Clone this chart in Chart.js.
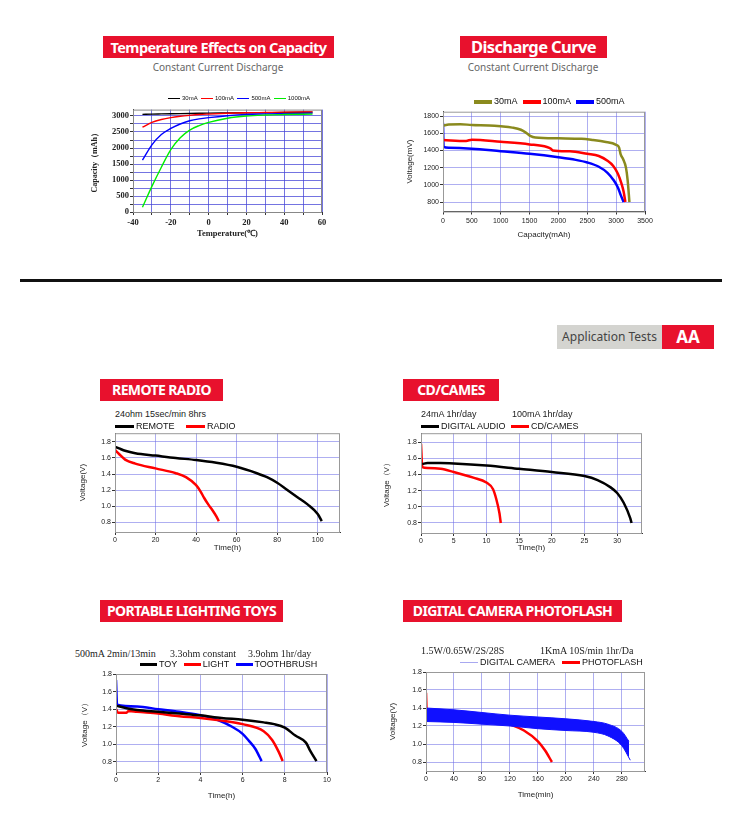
<!DOCTYPE html>
<html>
<head>
<meta charset="utf-8">
<script src="https://cdn.jsdelivr.net/npm/chart.js@4.4.1/dist/chart.umd.min.js"></script>
<style>
  body { margin: 0; background: #fff; }
  #page { position: relative; width: 729px; height: 821px; overflow: hidden; font-family: "Noto Sans", sans-serif; }
  .abs { position: absolute; white-space: nowrap; }
  .title { position: absolute; background: #e8112d; color: #fff; font-weight: 700; text-align: center; letter-spacing: -0.6px; }
  .sub { position: absolute; color: #666; font-size: 10px; text-align: center; }
  canvas.c { position: absolute; }
  .lg { position: absolute; white-space: nowrap; font-family: "Liberation Sans", Arial, sans-serif; color: #111; }
  .lg span.sw { display: inline-block; vertical-align: middle; margin-right: 2px; }
  .serif { font-family: "Liberation Serif", "Times New Roman", serif; }
</style>
</head>
<body>
<div id="page">
  <!-- top section -->
  <div class="title" style="left:103px;top:36px;width:231px;height:22px;line-height:22px;font-size:14.5px;">Temperature Effects on Capacity</div>
  <div class="sub" style="left:118px;top:60px;width:200px;">Constant Current Discharge</div>
  <div class="title" style="left:460px;top:36px;width:147px;height:22px;line-height:22px;font-size:16.5px;">Discharge Curve</div>
  <div class="sub" style="left:433px;top:60px;width:200px;">Constant Current Discharge</div>

  <div class="abs" style="left:20px;top:279px;width:702px;height:3px;background:#111;"></div>

  <div class="abs" style="left:557px;top:325px;width:105px;height:24px;background:#d4d4d0;color:#444;font-size:12px;line-height:24px;text-align:center;">Application Tests</div>
  <div class="abs" style="left:662px;top:325px;width:52px;height:24px;background:#e8112d;color:#fff;font-size:17px;font-weight:700;line-height:24px;text-align:center;">AA</div>

  <div class="title" style="left:100px;top:379px;width:123px;height:22px;line-height:22px;font-size:14px;">REMOTE RADIO</div>
  <div class="title" style="left:403px;top:379px;width:96px;height:22px;line-height:22px;font-size:14px;">CD/CAMES</div>
  <div class="title" style="left:100px;top:600px;width:183px;height:22px;line-height:22px;font-size:14px;">PORTABLE LIGHTING TOYS</div>
  <div class="title" style="left:403px;top:600px;width:219px;height:22px;line-height:22px;font-size:14px;">DIGITAL CAMERA PHOTOFLASH</div>

  <canvas class="c" id="c1"></canvas>
  <canvas class="c" id="c2"></canvas>
  <canvas class="c" id="c3"></canvas>
  <canvas class="c" id="c4"></canvas>
  <canvas class="c" id="c5"></canvas>
  <canvas class="c" id="c6"></canvas>

  <!-- legends / notes -->
  <div class="lg" style="left:168px;top:95px;font-size:6px;">
    <span class="sw" style="width:12px;height:1px;background:#000"></span>30mA
    <span class="sw" style="width:12px;height:1px;background:#f00;margin-left:2px"></span>100mA
    <span class="sw" style="width:12px;height:1px;background:#00f;margin-left:2px"></span>500mA
    <span class="sw" style="width:12px;height:1px;background:#0e0;margin-left:2px"></span>1000mA
  </div>
  <div class="lg" style="left:474px;top:96px;font-size:9px;">
    <span class="sw" style="width:18px;height:4px;background:#8a8a1e"></span>30mA
    <span class="sw" style="width:18px;height:4px;background:#f00;margin-left:3px"></span>100mA
    <span class="sw" style="width:18px;height:4px;background:#00f;margin-left:3px"></span>500mA
  </div>

  <div class="lg" style="left:115px;top:409px;font-size:9px;color:#222;">24ohm 15sec/min 8hrs</div>
  <div class="lg" style="left:115px;top:421px;font-size:9px;">
    <span class="sw" style="width:19px;height:3px;background:#000"></span>REMOTE
    <span class="sw" style="width:19px;height:3px;background:#f00;margin-left:9px"></span>RADIO
  </div>

  <div class="lg" style="left:421px;top:409px;font-size:9px;color:#222;">24mA 1hr/day</div>
  <div class="lg" style="left:512px;top:409px;font-size:9px;color:#222;">100mA 1hr/day</div>
  <div class="lg" style="left:421px;top:421px;font-size:9px;">
    <span class="sw" style="width:18px;height:3px;background:#000"></span>DIGITAL AUDIO
    <span class="sw" style="width:18px;height:3px;background:#f00;margin-left:3px"></span>CD/CAMES
  </div>

  <div class="lg serif" style="left:75px;top:648px;font-size:10px;color:#222;">500mA 2min/13min</div>
  <div class="lg serif" style="left:170px;top:648px;font-size:10px;color:#222;">3.3ohm constant</div>
  <div class="lg serif" style="left:248px;top:648px;font-size:10px;color:#222;">3.9ohm 1hr/day</div>
  <div class="lg" style="left:140px;top:659px;font-size:9px;">
    <span class="sw" style="width:17px;height:3px;background:#000"></span>TOY
    <span class="sw" style="width:17px;height:3px;background:#f00;margin-left:4px"></span>LIGHT
    <span class="sw" style="width:17px;height:3px;background:#00f;margin-left:4px"></span>TOOTHBRUSH
  </div>

  <div class="lg serif" style="left:421px;top:645px;font-size:10px;color:#222;">1.5W/0.65W/2S/28S</div>
  <div class="lg serif" style="left:540px;top:645px;font-size:10px;color:#222;">1KmA 10S/min 1hr/Da</div>
  <div class="lg" style="left:460px;top:657px;font-size:9px;">
    <span class="sw" style="width:18px;height:1.5px;background:#a8a8f0"></span>DIGITAL CAMERA
    <span class="sw" style="width:18px;height:3px;background:#f00;margin-left:5px"></span>PHOTOFLASH
  </div>
</div>

<script>
/* ---------- data: temperature effects ---------- */
const tempX       = [-35, -30, -25, -20, -15, -10, -5, 0, 10, 20, 30, 40, 55];
const cap30mA     = [3050, 3060, 3065, 3070, 3075, 3080, 3085, 3090, 3095, 3100, 3105, 3110, 3120];
const cap100mA    = [2650, 2800, 2890, 2950, 2990, 3020, 3045, 3060, 3085, 3100, 3110, 3120, 3130];
const cap500mA    = [1620, 2100, 2420, 2610, 2750, 2850, 2910, 2950, 3010, 3050, 3065, 3075, 3090];
const cap1000mA   = [150, 800, 1400, 1950, 2320, 2560, 2700, 2800, 2930, 3000, 3030, 3045, 3060];
const tempTicks   = [-40, -30, -20, -10, 0, 10, 20, 30, 40, 50, 60];
const capTicks    = [0, 250, 500, 750, 1000, 1250, 1500, 1750, 2000, 2250, 2500, 2750, 3000];

/* ---------- data: discharge curve ---------- */
const dc30X   = [0, 100, 300, 500, 800, 1000, 1200, 1350, 1450, 1520, 1600, 2000, 2400, 2600, 2800, 3000, 3050, 3080, 3120, 3170, 3200, 3230];
const dc30Y   = [1690, 1700, 1705, 1695, 1690, 1680, 1665, 1640, 1600, 1565, 1550, 1540, 1535, 1520, 1500, 1465, 1435, 1350, 1300, 1200, 1050, 800];
const dc100X  = [0, 400, 500, 1000, 1500, 1800, 1870, 1900, 2200, 2500, 2700, 2850, 2950, 3030, 3090, 3130, 3160];
const dc100Y  = [1520, 1510, 1525, 1500, 1470, 1440, 1420, 1400, 1390, 1360, 1335, 1280, 1220, 1130, 1020, 920, 800];
const dc500X  = [0, 10, 100, 500, 1000, 1500, 2000, 2300, 2500, 2700, 2850, 2950, 3030, 3080, 3130];
const dc500Y  = [1720, 1440, 1430, 1420, 1390, 1360, 1320, 1290, 1260, 1210, 1140, 1060, 970, 880, 800];
const capXTicks = [0, 500, 1000, 1500, 2000, 2500, 3000, 3500];
const mvTicks   = [800, 1000, 1200, 1400, 1600, 1800];

/* ---------- data: remote / radio ---------- */
const remoteT = [0, 2, 5, 10, 20, 30, 40, 50, 60, 70, 75, 80, 85, 90, 95, 100, 102];
const remoteV = [1.74, 1.72, 1.69, 1.66, 1.63, 1.60, 1.575, 1.54, 1.49, 1.41, 1.36, 1.29, 1.20, 1.11, 1.02, 0.90, 0.81];
const radioT  = [0, 2, 5, 10, 20, 30, 35, 40, 42, 44, 46, 48, 50, 51.2];
const radioV  = [1.70, 1.65, 1.58, 1.53, 1.47, 1.41, 1.36, 1.26, 1.19, 1.10, 1.02, 0.95, 0.87, 0.81];
const hTicks100 = [0, 20, 40, 60, 80, 100];
const vTicks    = [0.8, 1.0, 1.2, 1.4, 1.6, 1.8];

/* ---------- data: cd / cames ---------- */
const audioT = [0.2, 1, 3, 5, 10, 15, 20, 25, 27, 29, 30, 31, 32, 32.2];
const audioV = [1.53, 1.54, 1.54, 1.535, 1.51, 1.47, 1.43, 1.38, 1.33, 1.24, 1.17, 1.05, 0.86, 0.80];
const camesT = [0, 0.2, 1, 3, 5, 8, 10, 11, 11.5, 12, 12.2];
const camesV = [1.78, 1.49, 1.48, 1.47, 1.43, 1.36, 1.30, 1.22, 1.10, 0.92, 0.80];
const hTicks30 = [0, 5, 10, 15, 20, 25, 30];

/* ---------- data: portable lighting toys ---------- */
const toyT   = [0, 0.5, 1, 2, 3, 4, 5, 6, 7, 7.5, 8, 8.5, 9, 9.2, 9.5];
const toyV   = [1.44, 1.41, 1.39, 1.37, 1.35, 1.33, 1.30, 1.28, 1.25, 1.23, 1.19, 1.10, 1.02, 0.93, 0.81];
const lightT = [0, 0.1, 0.5, 0.6, 1, 2, 3, 4, 5, 6, 7, 7.4, 7.7, 7.9];
const lightV = [1.40, 1.36, 1.36, 1.38, 1.37, 1.35, 1.32, 1.30, 1.27, 1.23, 1.15, 1.05, 0.92, 0.81];
const brushT = [0, 0.05, 1, 2, 3, 4, 4.8, 5.5, 6, 6.3, 6.6, 6.9];
const brushV = [1.73, 1.45, 1.43, 1.40, 1.37, 1.33, 1.28, 1.20, 1.12, 1.04, 0.95, 0.81];
const hTicks10 = [0, 2, 4, 6, 8, 10];

/* ---------- data: digital camera / photoflash ---------- */
const camT     = [0, 40, 80, 120, 160, 200, 240, 260, 280, 290];
const camHigh  = [1.40, 1.38, 1.35, 1.32, 1.30, 1.28, 1.25, 1.22, 1.14, 1.03];
const camT2    = [0, 40, 80, 120, 160, 200, 240, 260, 280, 292];
const camLow   = [1.25, 1.24, 1.22, 1.20, 1.17, 1.15, 1.13, 1.09, 0.98, 0.82];
const flashT   = [0, 1, 20, 40, 60, 80, 100, 120, 140, 160, 170, 180];
const flashV   = [1.57, 1.36, 1.36, 1.34, 1.32, 1.29, 1.26, 1.22, 1.15, 1.03, 0.93, 0.80];
const minTicks = [0, 40, 80, 120, 160, 200, 240, 280];

/* ---------- helpers ---------- */
function pts(xs, ys) { return xs.map((x, i) => ({ x: x, y: ys[i] })); }

function line(data, color, width, extra) {
  return Object.assign({
    data: data, borderColor: color, backgroundColor: color, borderWidth: width,
    pointRadius: 0, cubicInterpolationMode: 'monotone', fill: false
  }, extra || {});
}

// frame around the plot area
const framePlugin = {
  id: 'frame',
  afterDraw(chart, args, opts) {
    const a = chart.chartArea, ctx = chart.ctx;
    ctx.save();
    ctx.strokeStyle = opts.color || '#444';
    ctx.lineWidth = opts.width || 1;
    ctx.strokeRect(a.left + 0.5, a.top + 0.5, a.right - a.left - 1, a.bottom - a.top);
    ctx.restore();
  }
};

// box: canvas rect + wanted plot rect (page coords)
function makeChart(id, box, xs, ys, datasets, frame) {
  const cv = document.getElementById(id);
  cv.style.left = box.l + 'px';
  cv.style.top = box.t + 'px';
  cv.style.width = box.w + 'px';
  cv.style.height = box.h + 'px';
  cv.width = box.w; cv.height = box.h;
  const yW = box.pl - box.l;
  const xH = box.t + box.h - box.pb;

  const xTicks = xs.ticks, yTicks = ys.ticks;
  const font = xs.font;

  new Chart(cv, {
    type: 'line',
    data: { datasets: datasets },
    plugins: [framePlugin],
    options: {
      responsive: false, animation: false, devicePixelRatio: 1,
      layout: { padding: { left: 0, top: box.pt - box.t, right: box.l + box.w - box.pr, bottom: 0 } },
      plugins: { legend: { display: false }, tooltip: { enabled: false }, frame: frame || {} },
      scales: {
        x: {
          type: 'linear', min: xs.min, max: xs.max,
          afterBuildTicks: s => { s.ticks = xTicks.map(v => ({ value: v })); },
          afterFit: s => { s.height = xH; },
          grid: { color: xs.grid, lineWidth: xs.gridW || 1, tickColor: '#333', tickLength: 3, drawOnChartArea: true },
          border: { color: '#333', width: 1 },
          ticks: {
            autoSkip: false, maxRotation: 0, padding: xs.tickPad || 1, color: '#222', font: font,
            callback: v => (xs.labels && xs.labels.indexOf(v) < 0) ? '' : v
          },
          title: { display: true, text: xs.title, color: '#222', font: xs.titleFont, padding: { top: xs.titlePad || 2, bottom: 0 } }
        },
        y: {
          type: 'linear', min: ys.min, max: ys.max,
          afterBuildTicks: s => { s.ticks = yTicks.map(v => ({ value: v })); },
          afterFit: s => { s.width = yW; },
          grid: { color: ys.grid, lineWidth: ys.gridW || 1, tickColor: '#333', tickLength: 3 },
          border: { color: '#333', width: 1 },
          ticks: {
            autoSkip: false, padding: 1, color: '#222', font: ys.font || font,
            callback: v => (ys.labels && ys.labels.indexOf(v) < 0) ? '' : (ys.fmt ? ys.fmt(v) : v)
          },
          title: { display: true, text: ys.title, color: '#222', font: ys.titleFont, padding: { top: 0, bottom: ys.titlePad || 2 } }
        }
      }
    }
  });
}

const sans7 = { family: 'Liberation Sans, Arial, sans-serif', size: 7 };
const sans8 = { family: 'Liberation Sans, Arial, sans-serif', size: 8 };
const serifB = { family: 'Liberation Serif, Times New Roman, serif', size: 8.5, weight: 'bold' };
const gridBlue = 'rgba(70,70,215,0.75)';
const gridLight = 'rgba(110,110,230,0.55)';
const v1 = v => v.toFixed(1);

/* 1: temperature effects */
makeChart('c1',
  { l: 90, t: 100, w: 245, h: 139, pl: 133, pt: 109.6, pr: 322, pb: 212 },
  { min: -40, max: 60, ticks: tempTicks, labels: [-40, -20, 0, 20, 40, 60], grid: gridBlue, tickPad: 3,
    font: serifB, title: 'Temperature(℃)', titleFont: serifB, titlePad: 2 },
  { min: 0, max: 3200, ticks: capTicks, labels: [0, 500, 1000, 1500, 2000, 2500, 3000], grid: gridBlue,
    font: serifB, title: 'Capacity（mAh）', titleFont: { family: 'Liberation Serif, serif', size: 8, weight: 'bold' } },
  [
    line(pts(tempX, cap1000mA), '#00ee00', 1.4),
    line(pts(tempX, cap500mA), '#0000ff', 1.4),
    line(pts(tempX, cap100mA), '#ff0000', 1.4),
    line(pts(tempX, cap30mA), '#000000', 1.4)
  ],
  { color: '#888' }
);

/* 2: discharge curve */
makeChart('c2',
  { l: 405, t: 105, w: 255, h: 135, pl: 443, pt: 111.7, pr: 645, pb: 211.5 },
  { min: 0, max: 3500, ticks: capXTicks, labels: capXTicks, grid: gridLight, tickPad: 2,
    font: sans7, title: 'Capacity(mAh)', titleFont: sans8, titlePad: 3 },
  { min: 690, max: 1850, ticks: mvTicks, labels: mvTicks, grid: gridLight,
    font: sans7, title: 'Voltage(mV)', titleFont: sans8 },
  [
    line(pts(dc30X, dc30Y), '#8a8a1e', 2.5),
    line(pts(dc100X, dc100Y), '#ff0000', 2.5),
    line(pts(dc500X, dc500Y), '#0000ff', 2.5)
  ],
  { color: '#999' }
);

/* 3: remote radio */
makeChart('c3',
  { l: 78, t: 428, w: 272, h: 125, pl: 115, pt: 433, pr: 340, pb: 532 },
  { min: 0, max: 111, ticks: hTicks100, labels: hTicks100, grid: gridLight,
    font: sans7, title: 'Time(h)', titleFont: sans8, titlePad: 2 },
  { min: 0.675, max: 1.91, ticks: vTicks, labels: vTicks, grid: gridLight, fmt: v1,
    font: sans7, title: 'Voltage(V)', titleFont: sans8 },
  [
    line(pts(remoteT, remoteV), '#000000', 2.5),
    line(pts(radioT, radioV), '#ff0000', 2.5)
  ],
  { color: '#999' }
);

/* 4: cd/cames */
makeChart('c4',
  { l: 382, t: 428, w: 270, h: 125, pl: 421, pt: 433, pr: 642, pb: 533 },
  { min: 0, max: 33.8, ticks: hTicks30, labels: hTicks30, grid: gridLight,
    font: sans7, title: 'Time(h)', titleFont: sans8, titlePad: 2 },
  { min: 0.676, max: 1.91, ticks: vTicks, labels: vTicks, grid: gridLight, fmt: v1,
    font: sans7, title: 'Voltage（V）', titleFont: sans8 },
  [
    line(pts(audioT, audioV), '#000000', 2.5),
    line(pts(camesT, camesV), '#ff0000', 2.5)
  ],
  { color: '#999' }
);

/* 5: portable lighting toys */
makeChart('c5',
  { l: 80, t: 668, w: 258, h: 133, pl: 116, pt: 674, pr: 327, pb: 772 },
  { min: 0, max: 10, ticks: hTicks10, labels: hTicks10, grid: gridLight,
    font: sans7, title: 'Time(h)', titleFont: sans8, titlePad: 4 },
  { min: 0.686, max: 1.8, ticks: vTicks, labels: vTicks, grid: gridLight, fmt: v1,
    font: sans7, title: 'Voltage（V）', titleFont: sans8 },
  [
    line(pts(toyT, toyV), '#000000', 2.5),
    line(pts(lightT, lightV), '#ff0000', 2.5),
    line(pts(brushT, brushV), '#0000ff', 2.5)
  ],
  { color: '#999' }
);

/* 6: digital camera photoflash */
makeChart('c6',
  { l: 388, t: 666, w: 268, h: 134, pl: 426, pt: 672, pr: 645, pb: 771 },
  { min: 0, max: 313, ticks: minTicks, labels: minTicks, grid: gridLight,
    font: sans7, title: 'Time(min)', titleFont: sans8, titlePad: 4 },
  { min: 0.7, max: 1.8, ticks: vTicks, labels: vTicks, grid: gridLight, fmt: v1,
    font: sans7, title: 'Voltage(V)', titleFont: sans8 },
  [
    line(pts(camT, camHigh), '#1010ff', 1),
    line(pts(camT2, camLow), '#1010ff', 1, { fill: '-1', backgroundColor: '#1010ff' }),
    line(pts(flashT, flashV), '#ff0000', 2.5)
  ],
  { color: '#999' }
);
</script>
</body>
</html>
